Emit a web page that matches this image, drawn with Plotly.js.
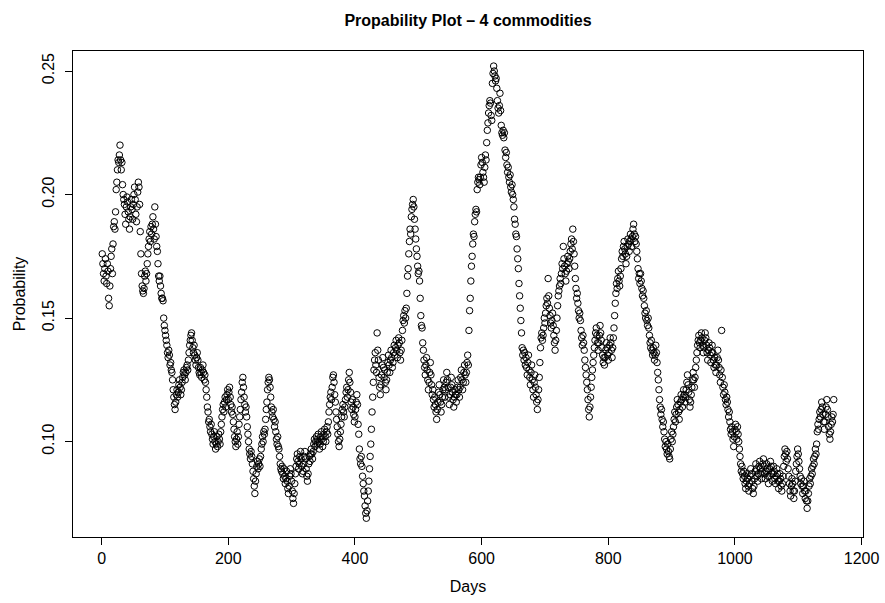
<!DOCTYPE html>
<html>
<head>
<meta charset="utf-8">
<script src="https://cdn.plot.ly/plotly-3.0.1.min.js"></script>
<style>html,body{margin:0;padding:0;background:#fff;}#chart{width:885px;height:603px;}</style>
</head>
<body>
<div id="chart"></div>
<script>
// Probability per day (days 1..1156), in blocks of 100 days
const days001_100 = [
0.176,0.172,0.168,0.165,0.170,0.174,0.167,0.164,0.172,0.169,
0.158,0.155,0.163,0.170,0.175,0.178,0.168,0.180,0.187,0.189,
0.186,0.193,0.202,0.205,0.210,0.214,0.213,0.216,0.220,0.214,
0.210,0.213,0.204,0.200,0.198,0.196,0.192,0.188,0.195,0.199,
0.197,0.193,0.190,0.186,0.191,0.195,0.198,0.194,0.190,0.196,
0.200,0.203,0.198,0.192,0.189,0.195,0.201,0.205,0.203,0.196,
0.185,0.176,0.168,0.163,0.161,0.160,0.162,0.167,0.169,0.165,
0.168,0.172,0.176,0.179,0.182,0.185,0.181,0.187,0.184,0.188,
0.191,0.186,0.182,0.195,0.188,0.183,0.179,0.177,0.172,0.167,
0.165,0.167,0.163,0.160,0.158,0.158,0.157,0.150,0.147,0.145];
const days101_200 = [
0.143,0.141,0.139,0.136,0.134,0.137,0.135,0.131,0.132,0.129,
0.128,0.125,0.121,0.118,0.115,0.113,0.116,0.119,0.121,0.118,
0.120,0.123,0.125,0.122,0.119,0.121,0.124,0.126,0.128,0.129,
0.127,0.125,0.128,0.130,0.131,0.129,0.133,0.136,0.139,0.141,
0.143,0.144,0.141,0.138,0.136,0.139,0.135,0.133,0.131,0.134,
0.136,0.133,0.130,0.128,0.127,0.130,0.128,0.126,0.129,0.131,
0.128,0.125,0.127,0.124,0.121,0.118,0.114,0.112,0.108,0.109,
0.106,0.104,0.107,0.103,0.101,0.099,0.102,0.104,0.100,0.097,
0.099,0.102,0.098,0.100,0.103,0.101,0.099,0.104,0.107,0.110,
0.113,0.115,0.112,0.116,0.118,0.114,0.117,0.119,0.121,0.117];
const days201_300 = [
0.120,0.122,0.118,0.115,0.112,0.114,0.111,0.108,0.105,0.102,
0.100,0.098,0.101,0.104,0.099,0.102,0.107,0.110,0.113,0.117,
0.120,0.124,0.126,0.122,0.118,0.115,0.112,0.114,0.110,0.106,
0.103,0.100,0.097,0.095,0.093,0.096,0.094,0.091,0.088,0.085,
0.082,0.079,0.084,0.087,0.090,0.092,0.089,0.091,0.093,0.090,
0.094,0.097,0.099,0.102,0.100,0.104,0.103,0.105,0.109,0.113,
0.116,0.121,0.124,0.126,0.125,0.122,0.118,0.114,0.112,0.110,
0.113,0.109,0.106,0.108,0.104,0.101,0.099,0.102,0.098,0.097,
0.094,0.091,0.089,0.088,0.090,0.087,0.085,0.089,0.086,0.083,
0.085,0.088,0.084,0.081,0.079,0.082,0.086,0.089,0.087,0.084];
const days301_400 = [
0.080,0.077,0.075,0.079,0.083,0.087,0.090,0.093,0.095,0.092,
0.089,0.091,0.094,0.096,0.093,0.090,0.087,0.088,0.091,0.094,
0.096,0.093,0.089,0.086,0.084,0.087,0.091,0.094,0.092,0.095,
0.097,0.095,0.093,0.096,0.099,0.101,0.098,0.100,0.102,0.099,
0.101,0.103,0.100,0.097,0.099,0.102,0.104,0.101,0.098,0.100,
0.103,0.105,0.102,0.100,0.104,0.106,0.103,0.108,0.112,0.115,
0.118,0.120,0.117,0.122,0.126,0.127,0.124,0.119,0.116,0.112,
0.109,0.106,0.103,0.100,0.098,0.101,0.104,0.107,0.110,0.113,
0.115,0.112,0.110,0.114,0.117,0.120,0.122,0.118,0.121,0.125,
0.128,0.124,0.120,0.116,0.113,0.117,0.114,0.111,0.108,0.110];
const days401_500 = [
0.113,0.116,0.119,0.115,0.107,0.103,0.097,0.093,0.091,0.094,
0.090,0.086,0.083,0.080,0.078,0.074,0.071,0.069,0.072,0.076,
0.080,0.084,0.089,0.094,0.099,0.105,0.112,0.118,0.124,0.129,
0.133,0.136,0.131,0.128,0.144,0.137,0.133,0.126,0.122,0.119,
0.123,0.127,0.131,0.134,0.130,0.126,0.129,0.124,0.121,0.125,
0.128,0.132,0.135,0.131,0.128,0.133,0.137,0.134,0.130,0.132,
0.136,0.139,0.135,0.138,0.141,0.137,0.134,0.139,0.142,0.140,
0.136,0.133,0.137,0.141,0.145,0.149,0.151,0.148,0.153,0.150,
0.154,0.160,0.167,0.170,0.176,0.181,0.186,0.184,0.191,0.194,
0.196,0.198,0.195,0.190,0.186,0.182,0.178,0.175,0.171,0.168];
const days501_600 = [
0.169,0.165,0.158,0.151,0.147,0.146,0.140,0.137,0.133,0.130,
0.127,0.131,0.134,0.129,0.125,0.121,0.124,0.128,0.132,0.127,
0.123,0.119,0.121,0.117,0.114,0.118,0.115,0.112,0.109,0.113,
0.116,0.120,0.123,0.119,0.116,0.112,0.115,0.118,0.121,0.125,
0.122,0.118,0.121,0.124,0.128,0.125,0.122,0.118,0.115,0.119,
0.122,0.126,0.123,0.120,0.117,0.114,0.118,0.121,0.119,0.116,
0.119,0.122,0.125,0.121,0.118,0.122,0.126,0.129,0.125,0.121,
0.124,0.128,0.131,0.127,0.124,0.128,0.132,0.135,0.131,0.145,
0.153,0.158,0.165,0.171,0.175,0.180,0.184,0.183,0.189,0.192,
0.194,0.193,0.202,0.205,0.207,0.206,0.204,0.207,0.212,0.215];
const days601_700 = [
0.213,0.209,0.207,0.205,0.211,0.216,0.214,0.221,0.226,0.229,
0.233,0.236,0.238,0.237,0.232,0.230,0.245,0.249,0.252,0.250,
0.248,0.246,0.247,0.243,0.238,0.235,0.233,0.236,0.241,0.234,
0.228,0.225,0.224,0.226,0.223,0.225,0.218,0.215,0.217,0.212,
0.209,0.211,0.207,0.205,0.208,0.203,0.201,0.204,0.200,0.198,
0.195,0.190,0.188,0.184,0.183,0.178,0.174,0.170,0.164,0.159,
0.154,0.149,0.144,0.138,0.135,0.137,0.133,0.136,0.131,0.134,
0.130,0.127,0.132,0.135,0.129,0.126,0.123,0.128,0.131,0.125,
0.121,0.118,0.124,0.127,0.122,0.119,0.116,0.113,0.117,0.121,
0.126,0.132,0.138,0.142,0.144,0.141,0.143,0.146,0.150,0.148];
const days701_800 = [
0.152,0.155,0.158,0.156,0.166,0.159,0.154,0.151,0.148,0.146,
0.149,0.152,0.147,0.143,0.140,0.137,0.141,0.145,0.150,0.155,
0.159,0.161,0.163,0.166,0.164,0.168,0.172,0.170,0.179,0.174,
0.171,0.168,0.165,0.169,0.172,0.175,0.173,0.170,0.174,0.177,
0.180,0.182,0.178,0.186,0.181,0.176,0.171,0.166,0.162,0.158,
0.160,0.156,0.153,0.150,0.152,0.149,0.145,0.142,0.139,0.143,
0.140,0.137,0.133,0.130,0.127,0.124,0.121,0.117,0.113,0.110,
0.114,0.118,0.122,0.126,0.129,0.132,0.135,0.138,0.141,0.144,
0.146,0.143,0.140,0.137,0.140,0.143,0.147,0.144,0.141,0.138,
0.135,0.132,0.134,0.131,0.134,0.137,0.140,0.138,0.135,0.133];
const days801_900 = [
0.136,0.139,0.142,0.140,0.137,0.134,0.138,0.142,0.146,0.151,
0.156,0.160,0.164,0.162,0.166,0.169,0.165,0.163,0.167,0.170,
0.174,0.177,0.175,0.179,0.181,0.178,0.176,0.172,0.175,0.179,
0.182,0.180,0.177,0.181,0.184,0.182,0.179,0.183,0.186,0.188,
0.184,0.181,0.183,0.180,0.177,0.174,0.170,0.166,0.168,0.164,
0.168,0.165,0.162,0.159,0.161,0.158,0.155,0.152,0.150,0.153,
0.149,0.147,0.150,0.146,0.143,0.140,0.138,0.141,0.137,0.135,
0.138,0.136,0.133,0.135,0.139,0.136,0.132,0.128,0.125,0.121,
0.117,0.114,0.111,0.113,0.109,0.106,0.108,0.104,0.101,0.098,
0.100,0.097,0.095,0.099,0.096,0.094,0.093,0.097,0.101,0.104];
const days901_1000 = [
0.100,0.103,0.106,0.109,0.112,0.108,0.111,0.114,0.117,0.115,
0.112,0.109,0.113,0.116,0.119,0.117,0.114,0.118,0.121,0.119,
0.116,0.118,0.121,0.124,0.127,0.123,0.120,0.117,0.114,0.116,
0.119,0.122,0.125,0.128,0.125,0.122,0.126,0.130,0.133,0.136,
0.139,0.141,0.143,0.140,0.138,0.141,0.144,0.142,0.139,0.136,
0.138,0.141,0.144,0.142,0.139,0.136,0.133,0.137,0.140,0.138,
0.135,0.132,0.136,0.139,0.136,0.133,0.130,0.134,0.131,0.128,
0.131,0.134,0.137,0.133,0.130,0.127,0.124,0.129,0.145,0.126,
0.122,0.119,0.123,0.120,0.117,0.115,0.118,0.116,0.113,0.110,
0.112,0.108,0.105,0.103,0.106,0.104,0.101,0.098,0.102,0.105];
const days1001_1100 = [
0.107,0.104,0.101,0.106,0.103,0.100,0.097,0.094,0.091,0.088,
0.090,0.087,0.085,0.088,0.086,0.083,0.081,0.084,0.087,0.085,
0.082,0.080,0.083,0.086,0.089,0.087,0.084,0.081,0.079,0.082,
0.085,0.088,0.091,0.089,0.086,0.084,0.087,0.090,0.092,0.089,
0.087,0.085,0.088,0.091,0.093,0.090,0.087,0.085,0.088,0.091,
0.089,0.086,0.083,0.086,0.089,0.092,0.090,0.087,0.084,0.087,
0.090,0.088,0.085,0.083,0.086,0.089,0.087,0.084,0.081,0.084,
0.087,0.085,0.082,0.080,0.083,0.086,0.090,0.094,0.097,0.095,
0.092,0.096,0.093,0.089,0.086,0.083,0.080,0.078,0.082,0.085,
0.083,0.080,0.077,0.080,0.084,0.088,0.091,0.094,0.097,0.095];
const days1101_1156 = [
0.092,0.089,0.086,0.083,0.085,0.082,0.079,0.082,0.084,0.080,
0.077,0.080,0.076,0.073,0.076,0.079,0.082,0.085,0.083,0.086,
0.089,0.087,0.090,0.093,0.091,0.094,0.097,0.095,0.099,0.104,
0.107,0.105,0.109,0.112,0.110,0.113,0.116,0.114,0.111,0.108,
0.105,0.108,0.111,0.114,0.117,0.113,0.110,0.106,0.103,0.101,
0.104,0.107,0.110,0.108,0.111,0.117];

const xTicks = [0, 200, 400, 600, 800, 1000, 1200];
const yTicks = [0.10, 0.15, 0.20, 0.25];
const titleText = "Propability Plot \u2013 4 commodities";
const xLabel = "Days";
const yLabel = "Probability";

const probability = [].concat(days001_100, days101_200, days201_300, days301_400,
  days401_500, days501_600, days601_700, days701_800, days801_900,
  days901_1000, days1001_1100, days1101_1156);
const day = probability.map((_, i) => i + 1);

const FONT = "'Liberation Sans', Arial, Helvetica, sans-serif";

Plotly.newPlot('chart', [{
  type: 'scatter',
  mode: 'markers',
  x: day,
  y: probability,
  marker: {symbol: 'circle-open', size: 6.5, color: '#000', line: {width: 1, color: '#000'}},
  hoverinfo: 'x+y'
}], {
  width: 885, height: 603, autosize: false,
  paper_bgcolor: '#fff', plot_bgcolor: '#fff',
  margin: {l: 73, r: 22, t: 51, b: 66, pad: 0},
  showlegend: false,
  font: {family: FONT, size: 16, color: '#000'},
  title: {text: titleText, font: {family: FONT, size: 16, weight: 'bold', color: '#000'},
          xref: 'paper', x: 0.5, xanchor: 'center', yref: 'container', y: 1 - 20/603, yanchor: 'middle'},
  xaxis: {
    range: [-45.2, 1202.2], autorange: false,
    tickmode: 'array', tickvals: xTicks, ticktext: xTicks.map(String),
    ticks: 'outside', ticklen: 7, tickwidth: 1, tickcolor: '#000',
    showline: true, mirror: true, linecolor: '#000', linewidth: 1,
    showgrid: false, zeroline: false,
    tickfont: {family: FONT, size: 16, color: '#000'},
    title: {text: xLabel, font: {family: FONT, size: 16, color: '#000'}, standoff: 14}
  },
  yaxis: {
    range: [0.0614, 0.2581], autorange: false,
    tickmode: 'array', tickvals: yTicks, ticktext: yTicks.map(v => v.toFixed(2)),
    ticks: 'outside', ticklen: 7, tickwidth: 1, tickcolor: '#000', tickangle: -90,
    ticklabelstandoff: 5,
    showline: true, mirror: true, linecolor: '#000', linewidth: 1,
    showgrid: false, zeroline: false,
    tickfont: {family: FONT, size: 16, color: '#000'},
    title: {text: yLabel, font: {family: FONT, size: 16, color: '#000'}, standoff: 9}
  }
}, {staticPlot: true, displayModeBar: false});
</script>
</body>
</html>
